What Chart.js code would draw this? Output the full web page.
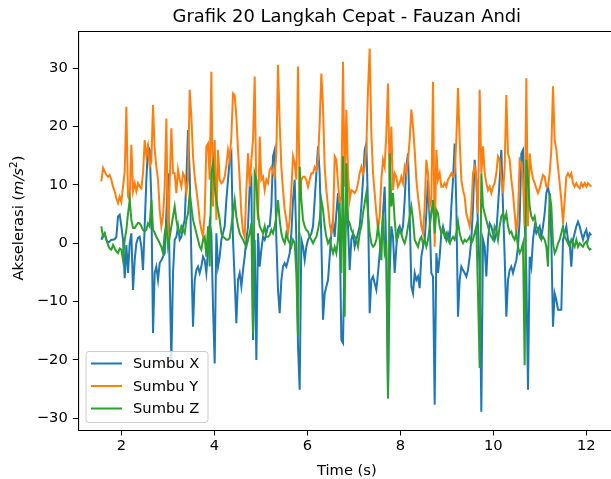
<!DOCTYPE html>
<html>
<head>
<meta charset="utf-8">
<title>Grafik 20 Langkah Cepat</title>
<script src="https://cdn.jsdelivr.net/npm/chart.js@4.4.1/dist/chart.umd.min.js"></script>
<style>
    html, body { margin: 0; padding: 0; background: #fff; overflow: hidden; }
</style>
</head>
<body>
<canvas id="stepChart" width="611" height="479"></canvas>
<script>
// sensor samples (~28 Hz), first sample at 1.571 s
const sampleStart = 1.571;
const sampleStep = 0.03584;

const sumbuX = [
    0.6, 1.4, 1.7, 0.6, 0.1, 0.3, 0.6, 0.6, 0.7, 1.1, 4.6, 4.9, 2.9, 0.6, -6.0, -0.3, -5.1, 0.0, 1.7, -8.0,
    -2.9, 0.0, 0.9, 1.1, -0.6, -4.6, 2.9, 10.9, 16.6, 16.0, 7.4, -15.4, -5.1, -4.0, -6.3, -3.4, -2.9, -2.3, -1.7, 5.1,
    12.0, -5.1, -20.3, -5.1,
    0.6, 1.1, 2.9, 0.6, 1.1, 2.9, 4.0, 10.9, 19.4, 12.0, -2.3, -14.3, -6.3, -4.6, -4.0, -5.1, -4.0, -2.3, -2.9, -5.1,
    -1.1, 3.4, 1.7, -10.9, -20.6, 1.7, -4.0, -2.3, 0.6, 1.7, 2.9, 7.4, 10.9, 14.3, 15.4, 0.6, -6.3, -13.7, -6.3, -5.1,
    -7.4, -4.6, -2.3, 0.6, 2.9, 9.7, 10.9, -16.6,
    0.6, -20.0, 1.7, -4.0, -1.1, 1.1, 0.6, 1.7, 2.9, 2.9, 6.3, 14.9, 16.0, 0.6, -8.0, -12.0, -6.3, -4.0, -3.4, -4.0,
    -2.9, -1.7, 1.7, 7.4, 10.9, 0.6, -17.7, -25.1, 0.6, -0.6, -2.9, -0.6, 0.6, 1.1, 1.7, 2.9, 7.4, 12.0, 16.6, 12.0,
    0.6, -13.1, -8.6, -7.4, -6.3, -2.3, 1.7, 4.0,
    1.1, 5.1, 8.6, 2.9, -16.6, -17.1, -0.6, 7.4, 2.9, -4.6, 0.6, 1.7, -0.6, 0.6, 1.7, 2.9, 6.3, 10.9, 16.0, 17.1,
    6.3, -12.0, -6.3, -5.7, -6.9, -8.0, -5.1, -1.7, 0.6, 5.1, 9.7, -2.3, -26.0, -5.1, 2.9, 1.1, -5.1, -0.6, 2.3, 2.9,
    1.7, 2.9, 7.4, 13.1, 15.4, 5.1, -7.4, -8.6,
    -5.1, -6.3, -5.7, -7.7, -2.3, -0.6, 0.6, 5.1, 10.9, 4.0, -5.1, -5.7, -27.7, -1.7, -5.1, -2.3, 1.7, 2.9, 1.7, 0.6,
    1.7, 0.6, 6.3, 10.9, 17.1, 6.3, -12.6, -6.3, -4.0, -4.6, -5.1, -5.7, -4.6, -2.3, 0.6, 6.3, 14.3, 10.9, 2.9, -5.1,
    -28.9, 0.6, -0.6, -5.7, 0.6, 3.4, 2.9, 1.7,
    0.6, 1.7, 6.3, 10.9, 16.0, 6.3, -2.3, -12.6, -6.3, -4.6, -4.0, -5.1, -4.0, -2.9, -0.6, 4.0, 15.4, 16.0, 4.0, -5.1,
    -25.1, -2.3, -4.0, 0.6, 2.9, 1.7, 2.3, 2.9, 1.1, 2.9, 5.1, 8.6, 9.7, 8.0, 0.6, -14.3, -8.6, -9.7, -11.4, -11.4,
    -11.4, 0.6, 1.7, 2.9, 0.6, 0.0, -4.0, 0.6, 1.7, 2.9, 3.7, 2.9, 1.7, 0.6, 1.7, 2.3, 0.6, 1.7, 1.4
];

const sumbuY = [
    10.6, 12.9, 12.3, 11.7, 11.4, 11.7, 10.9, 9.7, 8.9, 7.7, 6.9, 8.0, 7.1, 9.7, 12.3, 23.4, 8.0, 7.4, 16.9, 8.9,
    10.3, 8.9, 10.3, 9.7, 9.4, 12.0, 17.7, 14.9, 16.6, 13.1, 14.0, 23.7, 16.0, 13.1, 10.9, 5.7, 2.9, 4.6, 9.7, 21.4,
    0.6, 10.3, 19.7, 12.0,
    12.0, 8.6, 12.6, 10.9, 9.7, 12.0, 11.4, 8.6, 10.9, 26.3, 21.7, 14.9, 11.4, 9.1, 6.9, 4.0, 2.3, 1.1, 5.1, 16.6,
    17.1, 10.9, 29.4, 6.3, 17.7, 4.0, 16.0, 10.9, 10.3, 10.6, 11.4, 13.4, 16.0, 14.3, 18.3, 25.7, 25.4, 21.7, 16.0, 10.9,
    5.1, 2.0, 1.1, 9.1, 15.4, 9.7, 14.3, 17.7,
    28.6, 9.1, 4.0, 18.3, 10.9, 11.4, 9.1, 10.9, 10.3, 12.6, 13.1, 12.0, 11.4, 15.4, 30.6, 20.6, 13.1, 9.1, 5.7, 4.0,
    1.7, 4.0, 9.1, 14.9, 13.7, 10.9, 30.3, 7.4, 10.9, 11.4, 11.4, 10.9, 9.7, 10.9, 12.0, 12.0, 13.1, 12.6, 14.3, 20.6,
    29.1, 23.4, 13.1, 9.1, 6.3, 3.4, 1.7, 2.9,
    14.9, 14.3, 10.3, 6.9, 8.0, 31.1, 9.7, 22.9, 12.0, 7.4, 9.1, 8.9, 8.6, 9.1, 10.3, 12.0, 13.1, 12.0, 13.1, 16.6,
    26.3, 33.4, 18.9, 12.0, 8.6, 5.1, 2.3, 4.6, 10.9, 14.3, 13.1, 18.9, 27.4, 10.9, 20.0, 9.1, 12.0, 11.4, 9.7, 10.3,
    11.4, 10.3, 13.1, 12.0, 14.3, 17.7, 22.9, 20.0,
    16.0, 10.9, 8.0, 5.7, 2.9, 1.7, 6.3, 14.3, 12.0, 6.3, 7.4, 27.7, -0.6, 16.0, 10.9, 12.0, 9.7, 9.7, 10.3, 9.7,
    10.9, 11.4, 12.0, 11.4, 12.0, 17.7, 26.6, 17.7, 10.9, 9.1, 8.0, 5.1, 4.0, 2.9, 5.7, 12.0, 13.1, 10.9, 5.1, 26.3,
    12.0, 16.6, 12.0, 10.3, 9.1, 9.7, 8.6, 9.7,
    10.3, 12.0, 14.9, 14.3, 10.9, 8.6, 13.1, 25.4, 15.4, 14.3, 10.9, 8.6, 5.1, 1.7, 5.1, 14.3, 13.7, 10.9, 2.9, 28.3,
    2.9, 15.4, 12.6, 11.1, 10.3, 9.4, 8.6, 9.4, 10.6, 11.7, 11.4, 9.7, 9.7, 12.0, 16.0, 26.9, 17.7, 16.0, 13.1, 10.3,
    7.4, 3.4, 7.4, 11.4, 12.0, 11.4, 12.0, 10.3, 9.7, 10.3, 9.7, 9.4, 10.3, 9.7, 10.3, 9.7, 10.3, 10.0, 9.7
];

const sumbuZ = [
    2.9, 1.1, 1.7, 0.6, -0.3, -0.9, -1.1, -0.3, -0.9, -1.4, -1.7, -0.9, -1.1, -2.9, 0.6, 2.3, 5.1, 7.4, 4.0, 2.6,
    2.6, 3.1, 3.5, 3.4, 2.9, 2.3, 2.0, 2.3, 3.4, 2.9, 7.4, 2.3, 1.8, 1.1, 0.6, 0.0, -0.6, -1.7, 1.7, 3.1,
    -0.6, 1.1, 2.9, 4.6,
    6.3, 4.0, 2.3, 1.7, 2.9, 2.3, 1.7, 4.0, 5.1, 8.6, 6.3, 4.0, 2.9, 1.7, 0.6, -0.6, -1.1, 0.6, 1.1, -2.3,
    2.9, -4.0, 12.0, 13.7, 9.7, 7.4, 5.7, 4.0, 1.7, 1.1, 0.9, 0.6, 0.6, 0.9, 2.9, 5.1, 7.4, 4.6, 2.9, 1.7,
    1.1, 0.6, 0.0, -0.6, 0.6, 1.7, 3.4, -15.4,
    12.0, 10.9, 5.1, 2.9, 2.3, 1.7, 2.9, 1.1, 1.1, 1.4, 2.3, 1.7, 2.9, 4.6, 7.4, 4.0, 1.7, 0.6, 0.0, 1.7,
    0.6, 0.0, -0.6, 0.6, 0.0, -5.1, -16.0, 13.1, 7.4, 4.0, 2.9, 2.3, 2.0, 1.1, 0.6, 0.0, 0.6, 1.1, 2.3, 4.0,
    7.4, 5.7, 2.9, 1.1, 0.0, 0.6, -0.6, -1.7,
    -0.6, -1.7, 0.6, 6.9, -5.1, 14.9, -12.6, 13.7, 4.0, 3.4, 2.3, 1.7, 1.1, 0.6, -0.6, 1.7, 2.9, 5.1, 6.9, 8.6,
    5.1, 1.7, 0.0, -0.6, -0.3, 0.6, 2.9, 0.6, -2.9, 5.1, -1.7, -0.6, -26.6, 15.4, 6.3, 8.6, 4.0, 0.6, 1.1, 2.3,
    1.7, 0.6, 0.0, 1.1, 2.9, 4.6, 6.3, 4.0,
    0.6, 0.0, -0.6, 0.6, 1.1, 0.0, 0.6, -0.6, 0.6, 2.9, 5.1, 7.4, 1.7, 5.7, 5.1, 2.9, 1.7, 2.3, 1.1, 1.7,
    0.6, 0.0, 0.6, 1.1, 0.6, 1.7, 3.7, 1.7, 0.6, 0.0, 0.6, 0.3, 0.6, 1.1, 0.0, 0.6, 1.7, 2.9, -8.6, -21.4,
    12.0, 6.3, 5.1, 4.0, 2.9, 1.7, 1.1, 0.6,
    2.9, 2.3, 0.6, 2.9, 4.6, 5.1, 4.0, 5.1, 2.9, 1.7, 2.0, 1.1, 0.6, 1.7, -0.6, -1.7, -1.1, 0.0, -20.9, 14.3,
    10.9, 6.3, 4.6, 4.0, 4.6, 2.9, 2.3, 1.1, 0.6, 1.1, 0.6, -0.6, -4.0, 8.6, 6.3, 0.0, -1.7, -1.1, 0.0, 0.6,
    1.7, 2.9, 1.1, 0.6, 0.0, -0.6, 0.6, 0.0, -0.6, 0.6, -0.6, 0.0, -0.3, -0.6, 0.0, 0.3, -0.6, -1.1, -0.9
];

const seriesLabels = ["Sumbu X", "Sumbu Y", "Sumbu Z"];
const seriesColors = ["#1f77b4", "#ff7f0e", "#2ca02c"];
const xTickValues = [2, 4, 6, 8, 10, 12];
const yTickValues = [-30, -20, -10, 0, 10, 20, 30];
const chartTitle = "Grafik 20 Langkah Cepat - Fauzan Andi";
const xAxisLabel = "Time (s)";

const FONT = "DejaVu Sans";
// the original axes run to x = 12.625, past the picture's right edge;
// title and x label are centred on that full axes width
const axesCenterTime = 6.85;

const toPoints = (values) => values.map((v, i) => ({ x: sampleStart + i * sampleStep, y: v }));

// title, axis labels, top spine and legend
const decorations = {
    id: "decorations",
    afterDraw(chart) {
        const ctx = chart.ctx;
        const area = chart.chartArea;
        const cx = chart.scales.x.getPixelForValue(axesCenterTime);
        ctx.save();

        // top spine (right side falls outside the picture)
        ctx.strokeStyle = "#000";
        ctx.lineWidth = 1.1;
        ctx.beginPath();
        ctx.moveTo(area.left, area.top);
        ctx.lineTo(area.right, area.top);
        ctx.stroke();

        // title
        ctx.fillStyle = "#000";
        ctx.font = `17.9px "${FONT}"`;
        ctx.textAlign = "center";
        ctx.textBaseline = "alphabetic";
        ctx.fillText(chartTitle, cx, 21.5);

        // x label
        ctx.font = `14.7px "${FONT}"`;
        ctx.textBaseline = "middle";
        ctx.fillText(xAxisLabel, cx, 471);

        // y label: Akselerasi (m/s^2)
        const parts = [
            { text: "Akselerasi (", font: `14.7px "${FONT}"`, dy: 0 },
            { text: "m/s", font: `italic 14.7px "${FONT}"`, dy: 0 },
            { text: "2", font: `10.5px "${FONT}"`, dy: -6 },
            { text: ")", font: `14.7px "${FONT}"`, dy: 0 },
        ];
        let total = 0;
        parts.forEach((p) => { ctx.font = p.font; p.w = ctx.measureText(p.text).width; total += p.w; });
        ctx.translate(17.5, 218);
        ctx.rotate(-Math.PI / 2);
        ctx.textAlign = "left";
        ctx.textBaseline = "alphabetic";
        let px = -total / 2;
        parts.forEach((p) => {
            ctx.font = p.font;
            ctx.fillText(p.text, px, 5 + p.dy);
            px += p.w;
        });
        ctx.setTransform(1, 0, 0, 1, 0, 0);

        // legend box at lower left
        const bx = area.left + 7.7, by = area.bottom - 79, bw = 122, bh = 71;
        ctx.beginPath();
        ctx.roundRect(bx, by, bw, bh, 3);
        ctx.fillStyle = "rgba(255,255,255,0.8)";
        ctx.fill();
        ctx.strokeStyle = "#cccccc";
        ctx.lineWidth = 1;
        ctx.stroke();

        ctx.font = `14.7px "${FONT}"`;
        ctx.textAlign = "left";
        ctx.textBaseline = "middle";
        chart.data.datasets.forEach((ds, i) => {
            const rowY = by + 12 + i * 22.5;
            ctx.strokeStyle = ds.borderColor;
            ctx.lineWidth = 2;
            ctx.beginPath();
            ctx.moveTo(bx + 5, rowY);
            ctx.lineTo(bx + 36, rowY);
            ctx.stroke();
            ctx.fillStyle = "#000";
            ctx.fillText(ds.label, bx + 47, rowY + 1);
        });
        ctx.restore();
    },
};

const ctx = document.getElementById("stepChart").getContext("2d");

window.stepChart = new Chart(ctx, {
    type: "line",
    data: {
        datasets: [
            { label: seriesLabels[0], data: toPoints(sumbuX), borderColor: seriesColors[0], order: 3 },
            { label: seriesLabels[1], data: toPoints(sumbuY), borderColor: seriesColors[1], order: 2 },
            { label: seriesLabels[2], data: toPoints(sumbuZ), borderColor: seriesColors[2], order: 1 },
        ],
    },
    options: {
        responsive: false,
        animation: false,
        layout: {
            padding: { left: 0, top: 31.5, right: 0, bottom: 0 },
        },
        elements: {
            point: { radius: 0 },
            line: { borderWidth: 2, tension: 0 },
        },
        scales: {
            x: {
                type: "linear",
                min: 1.075,
                max: 12.531, // visible part of the axes
                afterFit: (scale) => { scale.height = 48.5; },
                afterBuildTicks: (scale) => { scale.ticks = xTickValues.map((v) => ({ value: v })); },
                grid: { drawOnChartArea: false, drawTicks: true, tickLength: 5, color: "#000" },
                border: { display: true, color: "#000", width: 1.1 },
                ticks: {
                    color: "#000",
                    padding: 2,
                    maxRotation: 0,
                    font: { family: FONT, size: 14.7 },
                },
            },
            y: {
                min: -32.1,
                max: 36.3,
                afterFit: (scale) => { scale.width = 78.3; },
                afterBuildTicks: (scale) => { scale.ticks = yTickValues.map((v) => ({ value: v })); },
                grid: { drawOnChartArea: false, drawTicks: true, tickLength: 5.5, color: "#000" },
                border: { display: true, color: "#000", width: 1.1 },
                ticks: {
                    color: "#000",
                    padding: 5,
                    font: { family: FONT, size: 14.7 },
                    callback: (v) => (v < 0 ? "\u2212" + Math.abs(v) : String(v)),
                },
            },
        },
        plugins: {
            legend: { display: false },
            tooltip: { enabled: false },
        },
    },
    plugins: [decorations],
});
</script>
</body>
</html>
